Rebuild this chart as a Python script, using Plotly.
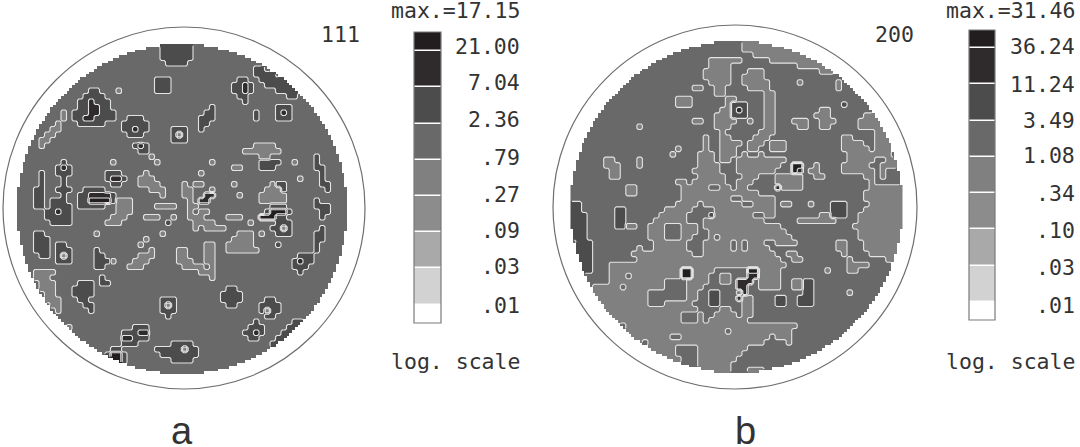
import numpy as np
import plotly.graph_objects as go

# pole figure levels, one char per cell, 60 x 60
# . = base band, 4 = lighter band, 6/7/8 = darker bands
DISC_111 = [
    ".......... .......... ......6666 66........ .......... ..........",
    ".......... .......... ......6666 66........ .......... ..........",
    ".......... .......... ......6666 66........ .......... ..........",
    ".......... .......... .......666 6......... .......... ..........",
    ".......... .......... .......... .......... ...66..... ..........",
    ".......... .......... .......... .......... ...6666... ..........",
    ".......... .......... .....666.. .......... 66..66666. ..........",
    ".......... .......... .....666.. .........6 676..66666 ..........",
    ".......... ...66...4. .....666.. .........6 676....666 6.........",
    ".......... ..6666.... .......... .......... 66.......6 6.........",
    ".......... .667666... .......... .......... .6........ ..........",
    ".......... .667766... .......... .....6.... .......666 ..........",
    "........4. 66677666.. .......... ....66.... ...6...676 ..........",
    "........4. 66776666.. 666....... ...666.... ...6...666 ..........",
    ".......4.. .66666...6 6666...... ...66..... .......... ..........",
    "......44.. .........6 6766....66 6..6...... .......... ..........",
    ".....44... .......... 666.....64 6......... .......... ..........",
    "....44.... .......... ........66 6......... .......... ..........",
    "....4..... .......... .676...... .......... ...4444... ..........",
    ".......... .......... ..66...... .......... .4444444.. ..........",
    ".......... .......... ....4..... .......... ....44.... ....6.....",
    "........6. .......4.. .....4.... .....4.... ....6666.. 4...6.....",
    ".......676 .......... .......... .........4 4...666... ....66....",
    "....6..666 ......666. ...4...... ...4...... .......... .....6....",
    "....6...6. ......6776 ..444..... .......... .......... .4...6....",
    "....6...6. .......66. ..4444.... 4.44.....4 ......466. .....66...",
    "...66..666 ..6666.... ....444... 44...4.... .....4446. ......6...",
    "...66...6. .6677776.. ......4... 44..77.... 4...44444. ..........",
    "...66.666. .668888644 4......... .4.77..... ....44444. ....6.....",
    "...66.6666 .66666..44 4....4444. .44....... ......666. ....666...",
    ".....66766 ........44 4......... .4.44..... .....68886 .....66...",
    ".....66666 .......444 ...444..4. .444....44 4...88866. .....6....",
    "......6666 ......444. .......6.. ..4444.... ..4....666 ..........",
    ".......... .......... .......... ..4.4444.. ......6646 .....6....",
    "...66..... ....4..... ......4... .......... 444.4..666 ....66....",
    "...666.... .......... ...4...... .........4 444....... ....66....",
    "...666.66. .......... ..4....... ....44..44 444....6.. ....6.....",
    "...666.666 ....6..... ....4....4 4...44..44 4444...... ....6.....",
    "....66.646 ....66.... ..444....4 4...44.... .......... .666......",
    ".......666 ....6664.. .444.....4 44..44.... .......... 6766......",
    ".......... ....66.... 444....... 4444.4.... .......... 666.......",
    "...4444... .......... .......... ...444.... .......... .6........",
    "...444.... .....6.... .......... .....4.... .......... ..........",
    "....444... .666.66... .......... .......... .......... ..........",
    "....444... 6666...... .......... ........66 .......... ..........",
    ".....44... 6666...... .......... .......666 6......... ..........",
    ".....444.. .66....... ......666. .......666 6....66... ..........",
    "......44.. ..66...... ......646. ........66 ....6666.. ..........",
    ".......4.. ...6...... ......666. .......... ....6466.. ..........",
    ".......... .......... .......6.. .......... .....66... ..........",
    ".......... .......... .......... .......... ...6...... 66........",
    ".........4 .......... .666...... .......... ..666....6 66........",
    ".......... .........6 6677...... .......... .6676...66 6.........",
    ".......... .........7 7666...... .......... ..66...666 ..........",
    ".......... .........6 66......66 66........ ......666. ..........",
    ".......... .......66. .....66666 466....... ......66.. ..........",
    ".......... ......6886 ......6666 666....... .......... ..........",
    ".......... ......6886 ........66 66........ .......... ..........",
    ".......... .......666 .......... .......... .......... ..........",
    ".......... .......... .......... .......... .......... ..........",
]

DISC_200 = [
    ".......... .......... .......... .444444444 4444444444 4444444444",
    ".......... .......... .......... .444444444 4444444444 4444444444",
    ".......... .......... .......... ...4444444 4444444444 4444444444",
    ".......... .......... .....44444 4.....4444 4444444444 4444444444",
    ".......... .......... .....4444. .......... .444444444 4444444444",
    ".......... .......... ....44444. ..444..... .....44444 4444444444",
    ".......... .......... ....44444. .4444..... .......... ..........",
    ".......... .......... .....4444. .44444.... .4......4. ..........",
    ".......... .......... ..44..44.. ..4444.... ........4. ..........",
    ".......... .......... ......44.. .....44... .......... ..........",
    ".......... .........4 44......44 .....44... .......... ..........",
    ".......... .........4 44......46 66...44... .........6 ..........",
    ".......... .......... .......446 76...44... .....44... ..........",
    ".......... .......... ......4446 66...44... ....444... ...444....",
    ".......... .......... ..44..4444 ..4..44... 444..444.. ..4444....",
    ".......... ..4....... ......444. .....44... .44..44... ..44444...",
    ".......... .......... .......4.. ....444... .......... .....444..",
    ".......... .......... ....4..44. ...444.... .........4 4....444..",
    ".......... .......... ....4..444 4.444.444. .........4 444..444..",
    ".......... .........4 ....4..444 ..44..444. .........4 4444.444..",
    ".......... ........4. ...444.444 .4..4..... .......... 44444444..",
    "......44.. ..4....... ...444.44. 444444444. .......... 44444..444",
    "......444. ..4....... ...4444... 44444444.. 88..4....4 4444..4444",
    ".......44. .......... ..44444... 4444444... 87.44....4 44444.4...",
    ".......44. .......... ...44444.. .444...444 44..44.... ...44.4...",
    ".......... .........4 4.444444.. 444....444 44........ ....4.....",
    ".......... 44........ 44444..44. 44.....744 44........ ....444444",
    ".......... 44........ 4444444444 4444...... .......... ...4444444",
    ".......... .......... 444444444. .444444... .......... ...4444444",
    "66........ .........4 444.444444 4..4444.44 ...4...666 ....444444",
    "66......66 .......444 44....4444 4444444... .......666 ...4444444",
    "666.....66 ......4444 4....64444 444..44... .....44666 ..44444444",
    "666.....66 .....44444 4...444444 44444..... .4444444.. ..44444444",
    "666.....66 44..444... 444.444444 44444444.. .......... .444444444",
    "666....... ....444... 444..44444 444444444. .......... ..44444444",
    "666....... ....444... 44...4.444 4444444444 .......... ..44444444",
    ".666...... .....44444 4...44444. 4.444..444 4.......44 ...4444444",
    ".666...... ..4..44444 4...44444. 4.4444.... ........44 ...4444444",
    ".666...... .444444444 44..444444 4444444..4 4........4 ....444444",
    ".666...... ..44444444 4444444444 44444444.. 44........ 4......444",
    "..66...444 4444444444 4444444444 444444444. .......... 4444....44",
    "..66...444 4444444444 884444.... ..884444.. ......4... 44........",
    ".......444 .444444444 88444..44. ..774444.. .......... ..........",
    ".......444 4444444... .4444..44. 777.4444.. 4466...... ..........",
    "....44444. 4444444... .444...... 77..4444.. 4466...... ..........",
    "....444444 4444...... .44..66... 47........ ..66...... 4.........",
    ".....44444 4444...... .44..66... 744....66. .666...... ..........",
    "4444444444 4444...444 44...66... .44....66. .666...... ..........",
    "4444444444 4444444444 444....44. .44....... .......... ..........",
    "4444444444 4444444444 ...4..4444 .44....... .......... ..........",
    "4444444444 4444444444 ...4.44444 44........ .......... ..........",
    "444444444. 4444444444 4444444444 4444444444 4......... ..........",
    "4444444444 4444444444 44444444.4 4444444444 .......... ..........",
    "4444444444 44444444.. 4444444444 444444.444 .......... ..........",
    "4444444444 444.444444 4444444444 44444....4 .......... ..........",
    "4444444444 444444444. ...4444444 44........ .......... ..........",
    "4444444444 444444444. ...4444444 4......... .......... ..........",
    "4444444444 4444444444 ...4444444 .......... .......... ..........",
    "4444444444 444444444. ...444444. .......... .......... ..........",
    "4444444444 4444444444 444444444. ..444..... .......... ..........",
]

LEVEL_OF = {".": 5, "4": 4, "6": 6, "7": 7, "8": 8}
BAND_COLORS = ["#ffffff", "#d2d2d2", "#a9a9a9", "#8c8c8c", "#808080",
               "#696969", "#4c4c4c", "#2f2b2c", "#221e1f"]

BAR_LEVELS = [8, 7, 6, 5, 4, 3, 2, 1, 0]
BAR_EDGES_A = [32, 51, 87, 124, 160, 196, 232, 268, 305, 323]
BAR_EDGES_B = [30, 48, 84, 121, 157, 193, 229, 266, 302, 320]
LABELS_A = ["21.00", "7.04", "2.36", ".79", ".27", ".09", ".03", ".01"]
LABELS_B = ["36.24", "11.24", "3.49", "1.08", ".34", ".10", ".03", ".01"]
LABEL_Y_A = [46, 82, 119, 157, 194, 230, 266, 305]
LABEL_Y_B = [46, 84, 120, 155, 193, 230, 267, 305]

MONO = "DejaVu Sans Mono"
REFINE = 2


def grid_from(rows):
    z = np.array([[LEVEL_OF[ch] for ch in r.replace(" ", "")] for r in rows], dtype=float)
    z = np.kron(z, np.ones((REFINE, REFINE)))
    # only the disc of the pole figure holds data
    n = z.shape[0]
    idx = (np.arange(n) + 0.5) / n * 2 - 1
    xx, yy = np.meshgrid(idx, idx)
    z[xx**2 + yy**2 > 1] = np.nan
    return z


colorscale = []
for i, c in enumerate(BAND_COLORS):
    colorscale += [[i / 9, c], [(i + 1) / 9, c]]

fig = go.Figure()


def add_disc(rows, left, top, cell, outer_cx, outer_cy, outer_r):
    z = grid_from(rows)
    d = cell / REFINE
    fig.add_trace(go.Heatmap(z=z, x0=left + d / 2, dx=d, y0=top + d / 2, dy=d,
                             zmin=-0.5, zmax=8.5, colorscale=colorscale,
                             showscale=False, hoverinfo="skip"))
    fig.add_trace(go.Contour(z=z, x0=left + d / 2, dx=d, y0=top + d / 2, dy=d,
                             autocontour=False,
                             contours=dict(start=0.5, end=8.5, size=1, coloring="none"),
                             line=dict(color="#e4e4e4", width=1.1, smoothing=0),
                             showscale=False, hoverinfo="skip"))
    fig.add_shape(type="circle", x0=outer_cx - outer_r, x1=outer_cx + outer_r,
                  y0=outer_cy - outer_r, y1=outer_cy + outer_r,
                  line=dict(color="#6e6e6e", width=1.2))


def add_bar(x0, x1, edges):
    fig.add_trace(go.Heatmap(z=[[v] for v in BAR_LEVELS], x=[x0, x1], y=edges,
                             zmin=-0.5, zmax=8.5, colorscale=colorscale, ygap=1.5,
                             showscale=False, hoverinfo="skip"))
    fig.add_shape(type="rect", x0=x0, x1=x1, y0=edges[0], y1=edges[-1],
                  line=dict(color="#7a7a7a", width=1.2))


def label(x, y, text, anchor="right", size=21.5, family=MONO, color="#333333"):
    fig.add_annotation(x=x, y=y, text=text, showarrow=False, xanchor=anchor, yanchor="middle",
                       font=dict(family=family, size=size, color=color))


add_disc(DISC_111, 17, 44, 5.5, 184, 208, 181)
add_disc(DISC_200, 570.5, 41, 5.53, 735, 207, 182)
add_bar(414, 441, BAR_EDGES_A)
add_bar(969, 995, BAR_EDGES_B)

for txt, y in zip(LABELS_A, LABEL_Y_A):
    label(522, y, txt)
for txt, y in zip(LABELS_B, LABEL_Y_B):
    label(1077, y, txt)

label(522, 10, "max.=17.15")
label(1077, 10, "max.=31.46")
label(522, 361, "log. scale")
label(1077, 361, "log. scale")
label(362, 34, "111")
label(916, 34, "200")
label(182, 431, "a", anchor="center", size=38, family="Liberation Sans")
label(745, 431, "b", anchor="center", size=38, family="Liberation Sans")

fig.update_layout(width=1080, height=447, margin=dict(l=0, r=0, t=0, b=0),
                  paper_bgcolor="white", plot_bgcolor="white", showlegend=False,
                  xaxis=dict(range=[0, 1080], visible=False, fixedrange=True),
                  yaxis=dict(range=[447, 0], visible=False, fixedrange=True))

# the page margin would push the figure off the window
fig.write_html("out.html", config={"displayModeBar": False},
               post_script="document.body.style.margin='0';")
